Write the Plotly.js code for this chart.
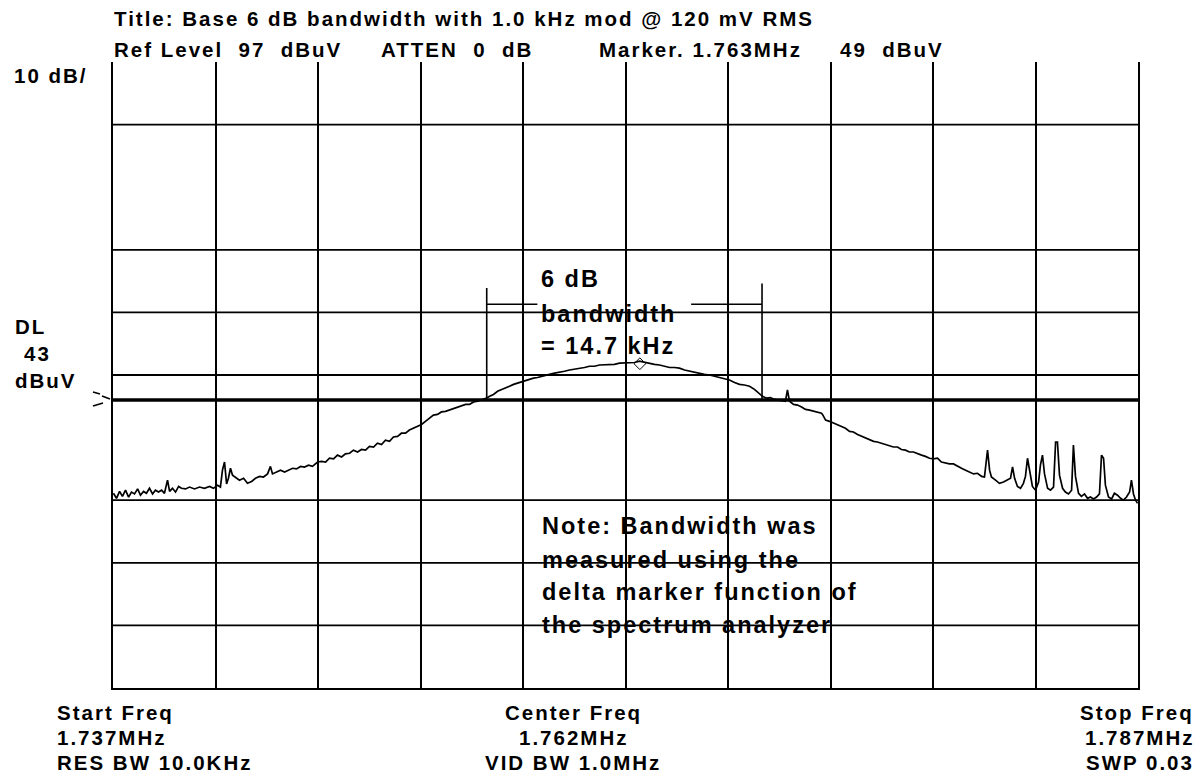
<!DOCTYPE html>
<html><head><meta charset="utf-8">
<script src="https://cdn.plot.ly/plotly-3.0.1.min.js"></script>
<style>
html,body{margin:0;padding:0;background:#fff;}
#chart{width:1202px;height:780px;}
text{letter-spacing:2px;white-space:pre;}
</style></head><body><div id="chart"></div>
<script>
// Sweep: frequency (kHz) and measured level (dBuV)
const freqKHz = [
1737.02,1737.17,1737.32,1737.46,1737.61,1737.76,1737.90,1738.05,1738.20,1738.34,1738.49,1738.63,1738.78,1738.93,1739.07,1739.22,1739.37,1739.51,1739.66,1739.76,1739.90,1740.05,1740.20,1740.34,1740.54,1740.73,1740.98,1741.22,1741.46,1741.71,1741.90,1742.10,
1742.24,1742.34,1742.44,1742.54,1742.63,1742.73,1742.83,1742.98,1743.17,1743.37,1743.56,1743.76,1743.95,1744.15,1744.34,1744.54,1744.68,1744.78,1744.98,1745.17,1745.37,1745.56,1745.76,1745.95,1746.15,1746.34,1746.54,1746.73,1746.98,
1747.17,1747.37,1747.56,1747.76,1747.95,1748.15,1748.34,1748.54,1748.73,1748.93,1749.12,1749.32,1749.51,1749.71,1749.90,1750.10,1750.29,1750.49,1750.68,1750.88,1751.07,1751.27,1751.46,1751.66,1751.85,1752.05,
1752.24,1752.44,1752.63,1752.83,1753.02,1753.22,1753.41,1753.61,1753.80,1754.00,1754.20,1754.39,1754.59,1754.78,1754.98,1755.22,
1755.37,1755.56,1755.76,1755.95,1756.15,1756.34,1756.54,1756.73,1756.93,1757.12,1757.32,1757.51,1757.71,1757.90,1758.10,1758.29,1758.54,1758.78,1759.02,1759.27,1759.51,1759.76,1760.00,1760.24,1760.49,1760.73,1760.98,1761.22,1761.46,1761.71,1761.95,1762.20,1762.44,1762.68,1762.93,1763.17,
1763.41,1763.66,1763.90,1764.15,1764.39,1764.63,1764.88,1765.12,1765.37,1765.61,1765.85,1766.10,1766.34,1766.59,1766.83,1767.07,1767.32,1767.56,1767.80,1768.05,1768.29,1768.54,1768.68,1768.88,1769.07,1769.27,1769.46,1769.66,1769.80,1769.90,1770.00,
1770.20,1770.39,1770.59,1770.78,1770.98,1771.17,1771.37,1771.56,1771.61,1771.76,1771.95,1772.15,1772.34,1772.54,1772.73,1772.93,1773.12,1773.32,1773.51,1773.71,1773.90,1774.10,1774.29,1774.49,1774.68,1774.88,1775.07,1775.27,1775.46,1775.66,1775.85,1776.05,1776.24,1776.44,1776.63,1776.83,1777.02,1777.22,1777.41,1777.61,1777.80,1778.00,1778.20,1778.39,1778.59,1778.78,1778.98,1779.17,1779.37,1779.51,
1779.61,1779.66,1779.76,1779.85,1780.05,1780.24,1780.44,1780.63,1780.78,1780.88,1780.98,1781.12,1781.27,1781.41,1781.51,1781.61,1781.71,1781.85,1782.00,1782.15,1782.24,1782.34,1782.44,1782.59,1782.73,1782.88,1782.98,1783.07,1783.17,1783.32,1783.46,1783.61,1783.76,1783.85,1783.95,1784.10,1784.24,1784.39,1784.54,1784.68,1784.83,1784.98,1785.12,1785.22,1785.32,1785.41,1785.56,1785.71,1785.85,1786.00,1786.15,1786.29,1786.44,1786.59,1786.68,1786.78,1786.88,1786.98
];
const levelDBuV = [
28.1,27.3,28.4,27.6,28.6,27.5,28.3,28.0,28.8,27.8,28.4,28.1,28.9,28.0,28.6,28.3,28.6,28.1,30.2,28.4,28.9,28.3,29.2,28.9,28.8,29.1,28.8,29.1,28.9,29.2,28.9,29.4,
29.1,31.8,33.1,29.6,30.5,32.1,31.0,30.7,30.2,30.5,29.7,30.0,30.5,30.8,30.7,31.2,32.4,31.2,31.5,31.8,31.5,31.8,32.1,32.0,32.4,32.3,32.6,32.4,33.1,
33.2,33.1,33.7,33.6,34.2,33.9,34.4,34.5,35.0,34.7,35.1,35.0,35.6,35.5,36.1,35.9,36.6,36.4,37.1,37.2,37.7,37.7,38.2,38.5,38.8,39.1,
39.6,40.1,40.6,40.7,41.1,41.2,41.4,41.7,41.9,42.0,42.3,42.3,42.7,42.8,43.0,43.3,
43.6,43.9,44.4,44.7,44.9,45.2,45.5,45.7,46.0,46.2,46.3,46.5,46.6,46.8,47.0,47.1,47.3,47.4,47.6,47.8,47.9,48.1,48.2,48.4,48.4,48.6,48.6,48.7,48.7,48.9,48.9,49.0,49.0,49.2,49.0,48.9,
48.7,48.6,48.4,48.2,48.2,48.1,47.8,47.6,47.4,47.3,47.1,47.0,46.8,46.6,46.5,46.2,45.8,45.5,45.4,45.2,44.7,43.9,43.6,43.3,43.4,43.1,43.0,42.8,42.8,44.6,42.8,
42.3,42.2,41.9,41.5,41.4,41.2,41.1,40.9,40.7,39.8,39.6,39.3,39.0,38.8,38.5,38.0,37.9,37.5,37.2,36.9,36.7,36.4,36.3,36.1,35.9,35.6,35.5,35.5,35.1,35.0,34.7,34.7,34.4,34.2,34.0,33.7,33.6,33.7,33.1,32.9,32.8,32.8,32.4,32.1,31.8,31.5,31.2,31.3,30.8,30.7,
33.1,35.0,31.8,30.7,30.2,29.7,29.9,30.2,30.5,32.3,30.5,29.2,28.9,29.7,30.8,33.7,31.5,29.2,28.6,29.9,32.6,34.2,31.2,28.9,28.6,29.1,36.3,36.3,31.0,28.9,28.3,28.0,28.6,35.8,30.8,28.1,27.6,28.0,27.3,27.5,27.2,27.5,28.0,34.2,33.7,29.4,27.5,27.2,28.1,27.8,27.3,27.0,27.5,28.3,30.2,28.0,27.0,26.5
];

// Analyzer settings
const startFreqKHz = 1737, stopFreqKHz = 1787, freqPerDivKHz = 5;
const refLevel = 97, dbPerDiv = 10, numDivs = 10;
const gridLevels = [87, 67, 57, 47, 27, 17, 7];
const displayLine = 43;
const bwMarkerFreqs = [1755.23, 1768.66];
const bwMarkerTops = [60.9, 61.6];
const bwBracketLevel = 58.3;
const bwBracketGap = [1757.7, 1765.2];
const markerFreq = [1762.7], markerLevel = [48.8];

// Texts
const headerTexts = ["Title: Base 6 dB bandwidth with 1.0 kHz mod @ 120 mV RMS", "Ref Level  97  dBuV", "ATTEN  0  dB", "Marker. 1.763MHz", "49  dBuV"];
const sideTexts = ["10 dB/", "DL", "43", "dBuV"];
const bwTexts = ["6 dB", "bandwidth", "= 14.7 kHz"];
const noteTexts = ["Note: Bandwidth was", "measured using the", "delta marker function of", "the spectrum analyzer"];
const bottomLeft = ["Start Freq", "1.737MHz", "RES BW 10.0KHz"];
const bottomCenter = ["Center Freq", "1.762MHz", "VID BW 1.0MHz"];
const bottomRight = ["Stop Freq", "1.787MHz", "SWP 0.03"];

const W = 1202, H = 780, L = 113, R = 64, T = 62, B = 92;
const pw = W - L - R, ph = H - T - B;
const px = x => (x - L) / pw, py = y => (H - B - y) / ph;
const FONT = "Liberation Sans";

function lab(text, x, y, anchor, size) {
  return {text: text, xref: 'paper', yref: 'paper', x: px(x), y: py(y), xanchor: anchor, yanchor: 'middle',
    showarrow: false, font: {family: FONT, size: size, color: '#000', weight: 700}};
}
const annotations = [];
const hdrX = [112, 112, 379, 597, 838], hdrY = [19, 49, 49, 49, 49];
headerTexts.forEach((t, i) => annotations.push(lab(t, hdrX[i], hdrY[i], 'left', 20.5)));
const sideX = [12, 13, 22, 13], sideY = [76, 326, 353, 380];
sideTexts.forEach((t, i) => annotations.push(lab(t, sideX[i], sideY[i], 'left', 20.5)));
const bwY = [279, 314, 346];
bwTexts.forEach((t, i) => annotations.push(lab(t, 539, bwY[i], 'left', 23.5)));
const noteY = [526, 560, 592, 625];
noteTexts.forEach((t, i) => annotations.push(lab(t, 540, noteY[i], 'left', 23.5)));
const botY = [712, 737, 762];
bottomLeft.forEach((t, i) => annotations.push(lab(t, 55, botY[i], 'left', 20.5)));
bottomCenter.forEach((t, i) => annotations.push(lab(t, 573, botY[i], 'center', 20.5)));
bottomRight.forEach((t, i) => annotations.push(lab(t, 1196, botY[i], 'right', 20.5)));

const shapes = [];
gridLevels.forEach(v => shapes.push({type: 'line', xref: 'paper', x0: 0, x1: 1, yref: 'y', y0: v, y1: v, line: {color: '#000', width: 1.8}}));
shapes.push({type: 'line', xref: 'paper', x0: 0, x1: 1, yref: 'y', y0: displayLine, y1: displayLine, line: {color: '#000', width: 3.5}});
bwMarkerFreqs.forEach((f, i) => shapes.push({type: 'line', xref: 'x', x0: f, x1: f, yref: 'y', y0: displayLine, y1: bwMarkerTops[i], line: {color: '#000', width: 1.6}}));
shapes.push({type: 'line', xref: 'x', x0: bwMarkerFreqs[0], x1: bwBracketGap[0], yref: 'y', y0: bwBracketLevel, y1: bwBracketLevel, line: {color: '#000', width: 1.6}});
shapes.push({type: 'line', xref: 'x', x0: bwBracketGap[1], x1: bwMarkerFreqs[1], yref: 'y', y0: bwBracketLevel, y1: bwBracketLevel, line: {color: '#000', width: 1.6}});
// display-line pointer at the left edge
const dlY = T + (refLevel - displayLine) / (dbPerDiv * numDivs) * ph;
shapes.push({type: 'path', xref: 'paper', yref: 'paper',
  path: `M ${px(93)} ${py(dlY - 8)} L ${px(100)} ${py(dlY - 6)} M ${px(102)} ${py(dlY - 4)} L ${px(110)} ${py(dlY - 1)} M ${px(93)} ${py(dlY + 6)} L ${px(103)} ${py(dlY + 3)}`,
  line: {color: '#000', width: 1.6}});

const traces = [
  {x: freqKHz, y: levelDBuV, type: 'scatter', mode: 'lines', line: {color: '#000', width: 1.7}, hoverinfo: 'skip'},
  {x: markerFreq, y: markerLevel, type: 'scatter', mode: 'markers', marker: {symbol: 'diamond-open', size: 9, color: '#000', line: {width: 1, color: '#000'}}, hoverinfo: 'skip'}
];

const layout = {
  width: W, height: H, margin: {l: L, r: R, t: T, b: B, pad: 0},
  paper_bgcolor: '#fff', plot_bgcolor: '#fff', showlegend: false,
  xaxis: {range: [startFreqKHz, stopFreqKHz], tick0: startFreqKHz, dtick: freqPerDivKHz, showgrid: true, gridcolor: '#000', gridwidth: 2,
    showticklabels: false, ticks: '', zeroline: false, showline: true, linecolor: '#000', linewidth: 2, mirror: false, fixedrange: true},
  yaxis: {range: [refLevel - dbPerDiv * numDivs, refLevel], showgrid: false, showticklabels: false, ticks: '', zeroline: false,
    showline: true, linecolor: '#000', linewidth: 2, mirror: true, fixedrange: true},
  shapes: shapes, annotations: annotations
};
Plotly.newPlot('chart', traces, layout, {displayModeBar: false, staticPlot: true});
</script></body></html>
